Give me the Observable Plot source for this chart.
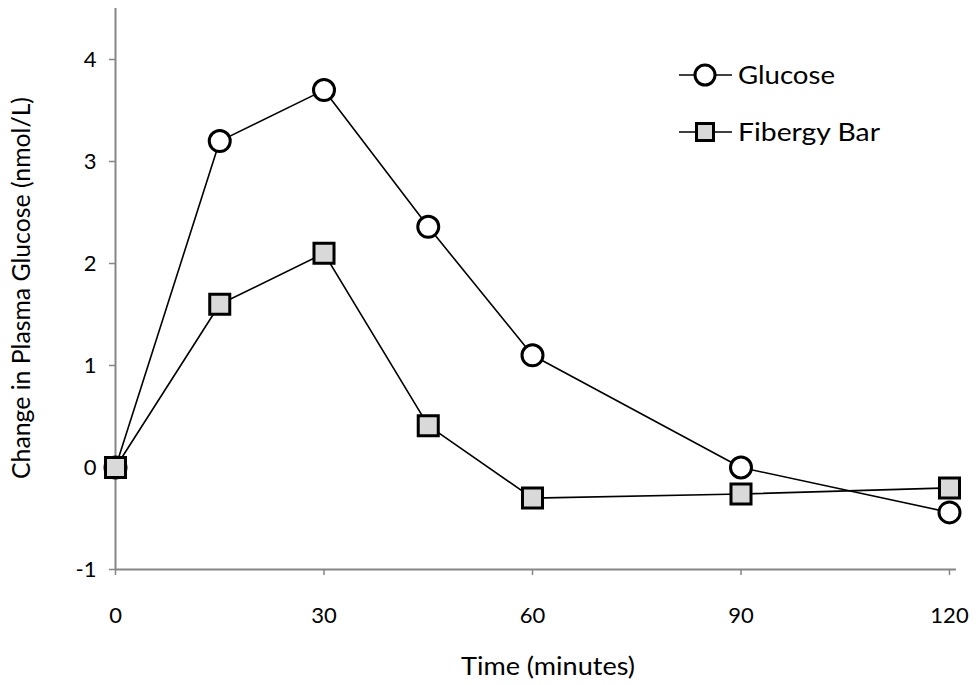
<!DOCTYPE html>
<html>
<head>
<meta charset="utf-8">
<script src="https://cdn.jsdelivr.net/npm/d3@7"></script>
<script src="https://cdn.jsdelivr.net/npm/@observablehq/plot@0.6"></script>
<style>
  html, body { margin: 0; padding: 0; background: #fff; }
  #chart { width: 976px; height: 685px; }
  svg [aria-label="x-axis tick"], svg [aria-label="y-axis tick"] { stroke: #868686; stroke-width: 1.5; }
</style>
</head>
<body>
<div id="chart"></div>
<script>
const times = [0, 15, 30, 45, 60, 90, 120];
const glucose = [0, 3.2, 3.7, 2.36, 1.1, 0, -0.44];
const fibergy = [0, 1.6, 2.1, 0.41, -0.3, -0.26, -0.2];
const xTicks = [0, 30, 60, 90, 120];
const yTicks = [-1, 0, 1, 2, 3, 4];
const seriesNames = ["Glucose", "Fibergy Bar"];
const xTitle = "Time (minutes)";
const yTitle = "Change in Plasma Glucose (nmol/L)";

const gData = times.map((t, i) => ({t, v: glucose[i]}));
const fData = times.map((t, i) => ({t, v: fibergy[i]}));
const FONT = "Lato, 'Open Sans', sans-serif";

const chart = Plot.plot({
  width: 976,
  height: 685,
  marginLeft: 115,
  marginRight: 27,
  marginTop: 8,
  marginBottom: 116,
  style: {fontFamily: FONT, fontSize: "22px", color: "#000", background: "#fff"},
  x: {domain: [0, 120]},
  y: {domain: [-1, 4.5]},
  marks: [
    Plot.axisX({ticks: xTicks, tickSize: 6, tickPadding: 32, tickFormat: d => String(d), label: null, fontSize: 22}),
    Plot.axisY({ticks: yTicks, tickSize: 6, tickPadding: 13, tickFormat: d => String(d), label: null, fontSize: 22}),
    Plot.ruleX([0], {y1: -1, y2: 4.5, stroke: "#868686", strokeWidth: 2}),
    Plot.ruleY([-1], {x1: 0, x2: 121, stroke: "#868686", strokeWidth: 2}),
    Plot.line(gData, {x: "t", y: "v", stroke: "#000", strokeWidth: 1.6}),
    Plot.line(fData, {x: "t", y: "v", stroke: "#000", strokeWidth: 1.6}),
    Plot.dot(gData, {x: "t", y: "v", symbol: "circle", r: 10.5, fill: "#fff", stroke: "#000", strokeWidth: 3}),
    Plot.dot(fData, {x: "t", y: "v", symbol: "square", r: 11.3, fill: "#d9d9d9", stroke: "#000", strokeWidth: 3})
  ]
});

const svg = d3.select(chart);

// axis titles
svg.append("text")
  .attr("x", 548).attr("y", 675)
  .attr("text-anchor", "middle")
  .attr("textLength", 174).attr("lengthAdjust", "spacingAndGlyphs")
  .style("font-size", "25px").style("font-family", FONT)
  .text(xTitle);
svg.append("text")
  .attr("transform", "translate(30,288) rotate(-90)")
  .attr("text-anchor", "middle")
  .attr("textLength", 382).attr("lengthAdjust", "spacingAndGlyphs")
  .style("font-size", "25px").style("font-family", FONT)
  .text(yTitle);

// legend (inside plot, top right)
const legend = svg.append("g").attr("aria-label", "legend");
const rowsY = [75, 132];
const textLens = [97, 142];
seriesNames.forEach((name, i) => {
  const g = legend.append("g").attr("transform", `translate(0,${rowsY[i]})`);
  g.append("line").attr("x1", 679).attr("x2", 732).attr("y1", 0).attr("y2", 0)
    .attr("stroke", "#000").attr("stroke-width", 1.6);
  if (i === 0) {
    g.append("circle").attr("cx", 705).attr("cy", 0).attr("r", 10)
      .attr("fill", "#fff").attr("stroke", "#000").attr("stroke-width", 3);
  } else {
    g.append("rect").attr("x", 696.5).attr("y", -8.5).attr("width", 17).attr("height", 17)
      .attr("fill", "#d9d9d9").attr("stroke", "#000").attr("stroke-width", 3);
  }
  g.append("text").attr("x", 738).attr("y", 9)
    .attr("text-anchor", "start")
    .attr("textLength", textLens[i]).attr("lengthAdjust", "spacingAndGlyphs")
    .style("font-size", "25px").style("font-family", FONT)
    .text(name);
});

document.getElementById("chart").appendChild(chart);
</script>
</body>
</html>
